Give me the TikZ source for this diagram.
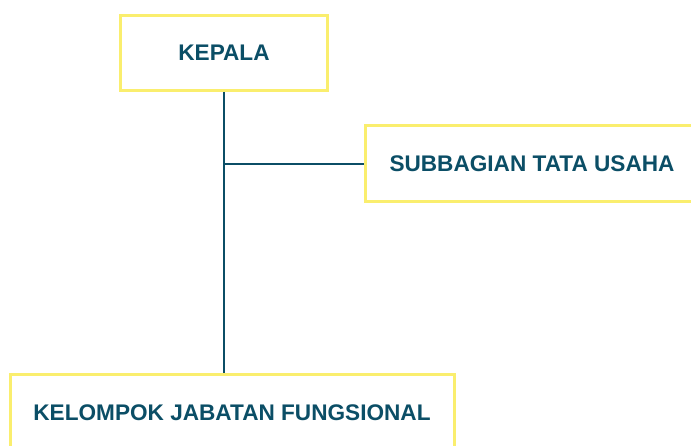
\documentclass[tikz,border=0pt]{standalone}
\usepackage{fontspec}
\setmainfont{Liberation Sans}
\usepackage{tikz}
\usetikzlibrary{positioning}
\definecolor{boxyellow}{HTML}{FAEE6E}
\definecolor{unitteal}{HTML}{0B4E66}

\begin{document}
\begin{tikzpicture}[x=1pt,y=-1pt, unit/.style={draw=boxyellow, line width=3pt, fill=white, inner sep=0pt, text=unitteal, font=\fontsize{22.6}{26}\selectfont\bfseries}, link/.style={draw=unitteal, line width=2.3pt}]
\useasboundingbox (0,0) rectangle (691,446);
\clip (0,0) rectangle (691,446);
\node[unit, minimum width=207pt, minimum height=75pt] (kepala) at (224,53) {KEPALA};
\node[unit, minimum width=333pt, minimum height=76pt] (tu) at (532,164) {SUBBAGIAN TATA USAHA};
\node[unit, minimum width=444pt, minimum height=76pt] (jf) at (232,412.5) {KELOMPOK JABATAN FUNGSIONAL};
% garis
\coordinate (cabang) at (kepala.south |- tu.west);
\draw[link] (kepala.south) -- (kepala.south |- jf.north);
\draw[link] (cabang) -- (tu.west);
\end{tikzpicture}
\end{document}
